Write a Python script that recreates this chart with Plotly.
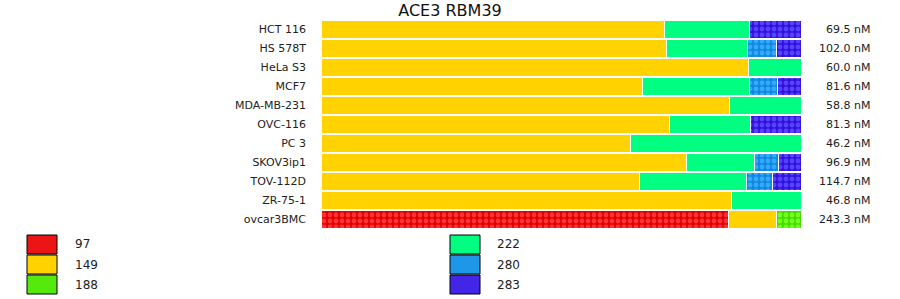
import plotly.graph_objects as go

# ---- data ----
cell_lines = ["HCT 116", "HS 578T", "HeLa S3", "MCF7", "MDA-MB-231", "OVC-116",
              "PC 3", "SKOV3ip1", "TOV-112D", "ZR-75-1", "ovcar3BMC"]
totals = ["69.5 nM", "102.0 nM", "60.0 nM", "81.6 nM", "58.8 nM", "81.3 nM",
          "46.2 nM", "96.9 nM", "114.7 nM", "46.8 nM", "243.3 nM"]
series_names = ["97", "149", "188", "222", "280", "283"]
s97  = [0, 0, 0, 0, 0, 0, 0, 0, 0, 0, 84.8]
s149 = [71.5, 71.9, 89.0, 66.9, 85.2, 72.5, 64.4, 76.2, 66.3, 85.6, 10.0]
s188 = [0, 0, 0, 0, 0, 0, 0, 0, 0, 0, 5.2]
s222 = [17.7, 16.9, 11.0, 22.3, 14.8, 16.9, 35.6, 14.2, 22.3, 14.4, 0]
s280 = [0, 6.0, 0, 6.0, 0, 0, 0, 5.0, 5.4, 0, 0]
s283 = [10.8, 5.2, 0, 4.8, 0, 10.6, 0, 4.6, 6.0, 0, 0]
series_values = [s97, s149, s188, s222, s280, s283]

# ---- styles ----
bg_colors = ["#E00000", "#FFD200", "#44DD00", "#00FF80", "#1188DD", "#3311DD"]
fg_colors = ["#FF3333", None, "#77FF22", None, "#33AAFF", "#5544FF"]
swatch_colors = ["#EC1515", "#FFD200", "#55EA0C", "#00FF80", "#1F97E9", "#4126E8"]
FONT = "DejaVu Sans"

fig = go.Figure()
for name, vals, bg, fg in zip(series_names, series_values, bg_colors, fg_colors):
    marker = dict(color=bg, line=dict(color="white", width=1))
    if fg:
        marker["pattern"] = dict(shape=".", fgcolor=fg, bgcolor=bg,
                                 size=6, solidity=0.5, fillmode="replace")
    fig.add_trace(go.Bar(y=cell_lines, x=vals, name=name, orientation="h",
                         marker=marker, showlegend=False))

# plot area geometry in pixels
W, H = 900, 299
L, R, T, B = 321, 99, 20, 70
PW, PH = W - L - R, H - T - B


def px(x):
    return (x - L) / PW


def py(y):
    return (H - B - y) / PH


# totals on the right
for name, tot in zip(cell_lines, totals):
    fig.add_annotation(x=px(872), xref="paper", y=name, yref="y", text=tot,
                       showarrow=False, xanchor="right", yanchor="middle",
                       font=dict(family=FONT, size=11, color="#222222"))

# custom legend
legend_cols = [(27, 73), (450, 495)]
row_tops = [235, 255, 275]
for i, (name, col) in enumerate(zip(series_names, swatch_colors)):
    cx, tx = legend_cols[i // 3]
    top = row_tops[i % 3]
    fig.add_shape(type="rect", xref="paper", yref="paper",
                  x0=px(cx), x1=px(cx + 30), y0=py(top + 19), y1=py(top),
                  fillcolor=col, line=dict(color="black", width=1))
    fig.add_annotation(x=px(tx), y=py(top + 9.5), xref="paper", yref="paper",
                       text=name, showarrow=False, xanchor="left",
                       yanchor="middle",
                       font=dict(family=FONT, size=12, color="#222222"))

fig.update_layout(
    width=W, height=H,
    barmode="stack", bargap=0.1,
    margin=dict(l=L, r=R, t=T, b=B, pad=0),
    plot_bgcolor="white", paper_bgcolor="white",
    title=dict(text="ACE3 RBM39", x=0.5, xref="container", xanchor="center",
               y=1 - 10 / H, yanchor="middle",
               font=dict(family=FONT, size=16, color="#111111")),
    font=dict(family=FONT, size=11, color="#222222"),
    xaxis=dict(range=[0, 100], visible=False, fixedrange=True),
    yaxis=dict(autorange="reversed", showgrid=False, zeroline=False,
               showline=False, ticks="", ticklabelstandoff=14,
               tickfont=dict(family=FONT, size=11, color="#222222")),
)

fig.write_html("out.html")
